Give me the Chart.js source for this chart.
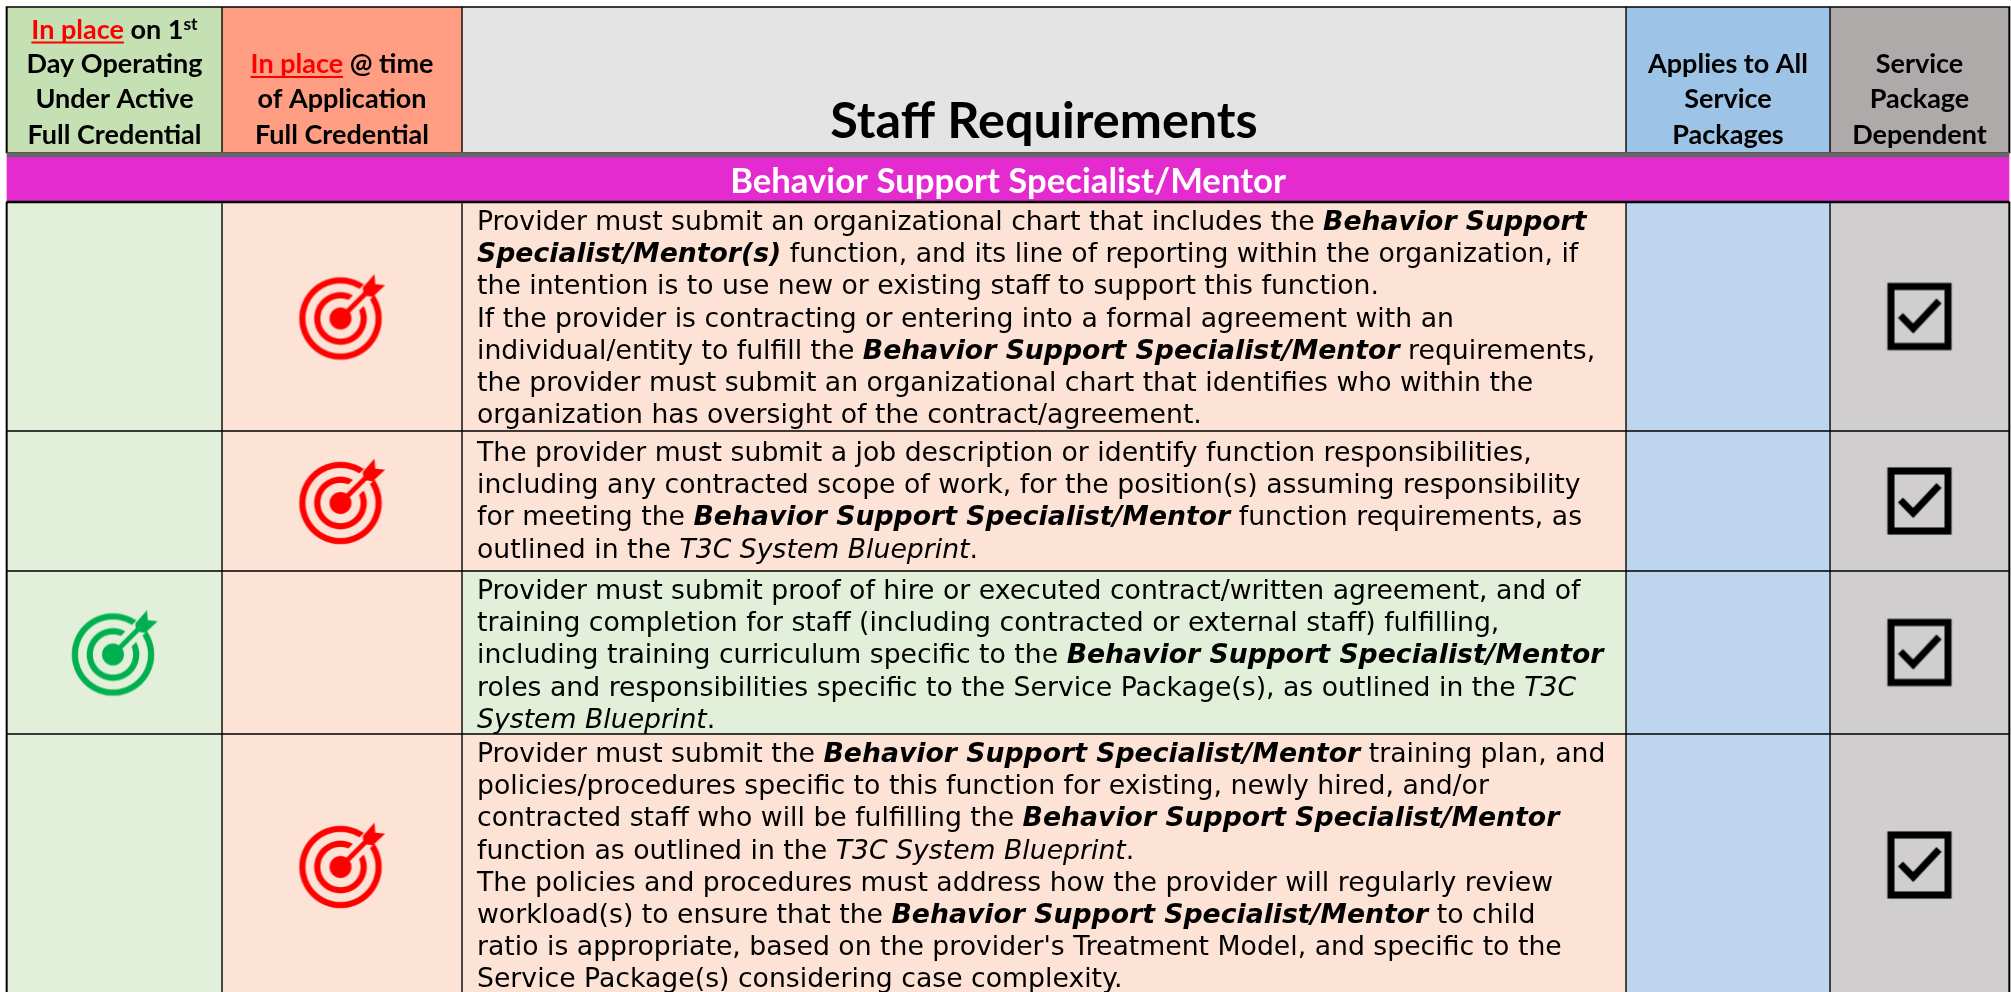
<!DOCTYPE html>
<html><head><meta charset="utf-8">
<style>html,body{margin:0;padding:0;background:#fff;overflow:hidden}canvas{display:block}</style>
<script src="https://cdn.jsdelivr.net/npm/chart.js@4"></script>
</head><body><canvas id="c" width="2011" height="992"></canvas>
<script>
// ---- content ----
const columnHeaders = [
  ["[In place] on 1^st", "Day Operating", "Under Active", "Full Credential"],
  ["[In place] @ time", "of Application", "Full Credential"],
  ["Staff Requirements"],
  ["Applies to All", "Service", "Packages"],
  ["Service", "Package", "Dependent"]
];
const sectionTitle = "Behavior Support Specialist/Mentor";
const rowTexts = [
  ["Provider must submit an organizational chart that includes the **Behavior Support**",
   "**Specialist/Mentor(s)** function, and its line of reporting within the organization, if",
   "the intention is to use new or existing staff to support this function.",
   "If the provider is contracting or entering into a formal agreement with an",
   "individual/entity to fulfill the **Behavior Support Specialist/Mentor** requirements,",
   "the provider must submit an organizational chart that identifies who within the",
   "organization has oversight of the contract/agreement."],
  ["The provider must submit a job description or identify function responsibilities,",
   "including any contracted scope of work, for the position(s) assuming responsibility",
   "for meeting the **Behavior Support Specialist/Mentor** function requirements, as",
   "outlined in the *T3C System Blueprint*."],
  ["Provider must submit proof of hire or executed contract/written agreement, and of",
   "training completion for staff (including contracted or external staff) fulfilling,",
   "including training curriculum specific to the **Behavior Support Specialist/Mentor**",
   "roles and responsibilities specific to the Service Package(s), as outlined in the *T3C*",
   "*System Blueprint*."],
  ["Provider must submit the **Behavior Support Specialist/Mentor** training plan, and",
   "policies/procedures specific to this function for existing, newly hired, and/or",
   "contracted staff who will be fulfilling the **Behavior Support Specialist/Mentor**",
   "function as outlined in the *T3C System Blueprint*.",
   "The policies and procedures must address how the provider will regularly review",
   "workload(s) to ensure that the **Behavior Support Specialist/Mentor** to child",
   "ratio is appropriate, based on the provider's Treatment Model, and specific to the",
   "Service Package(s) considering case complexity."]
];
// which column each row's target icon sits in (0 = first day, 1 = at application)
const targetColumnByRow = [1, 1, 0, 1];
// every row is ticked in "Service Package Dependent"
const checkColumnByRow = [4, 4, 4, 4];

// ---- layout & style (kept apart from the content) ----
const colEdges = [7, 222, 462, 1626, 1830, 2009];
const rowEdges = [7, 153, 157, 202, 431, 571, 734, 996];
const headerFill = ["#C5E0B3", "#FF9E83", "#E4E4E4", "#9DC3E6", "#AEAAAA"];
const bodyGreen = "#E2EFD9", bodySalmon = "#FDE3D6", bodyBlue = "#BDD6EE", bodyGrey = "#D0CECE";
const BODY_FONT = '"DejaVu Sans"', HEAD_FONT = 'Lato';
const bodySize = 26.7, bodyLine = 32.2, bodyX = 477;
const rowFirstBaseline = [230, 461, 599, 762];
const headBaselines = [38.5, 73, 108, 144];
const headSize = 27;

const colCenter = i => (colEdges[i] + colEdges[i + 1]) / 2;
const rowCenter = i => (rowEdges[i + 3] + rowEdges[i + 4]) / 2;

function cell(col, rowEdgeIdx) {
  return { x: colCenter(col), y: [rowEdges[rowEdgeIdx], rowEdges[rowEdgeIdx + 1]] };
}
const datasets = [];
const fullCenter = (colEdges[0] + colEdges[5]) / 2, fullWidth = colEdges[5] - colEdges[0];
// black backing that thickens the table's outer frame
datasets.push({ type: 'bar', data: [{ x: fullCenter, y: [6.5, rowEdges[1]] }, { x: fullCenter, y: [rowEdges[3], 996] }],
  backgroundColor: '#000', grouped: false, barThickness: fullWidth + 2, order: 9 });
// five table columns, each a floating-bar dataset
for (let c = 0; c < 5; c++) {
  const pts = [cell(c, 0)], fills = [headerFill[c]];
  rowTexts.forEach((_, r) => {
    pts.push(cell(c, r + 3));
    let f = c === 0 ? bodyGreen : c === 1 ? bodySalmon : c === 3 ? bodyBlue : c === 4 ? bodyGrey
          : (targetColumnByRow[r] === 0 ? bodyGreen : bodySalmon);
    fills.push(f);
  });
  datasets.push({
    type: 'bar', data: pts, backgroundColor: fills, borderColor: '#000', borderWidth: 1,
    borderSkipped: false, grouped: false, barThickness: colEdges[c + 1] - colEdges[c], order: 5
  });
}
// grey rule and magenta section band
datasets.push({ type: 'bar', data: [{ x: fullCenter, y: [rowEdges[1] - 0.5, rowEdges[2]] }], backgroundColor: '#666666',
  grouped: false, barThickness: fullWidth, order: 4 });
datasets.push({ type: 'bar', data: [{ x: fullCenter, y: [rowEdges[2], rowEdges[3]] }], backgroundColor: '#E42BD0',
  grouped: false, barThickness: fullWidth, order: 4 });
datasets.push({ type: 'bar', data: [{ x: fullCenter, y: [rowEdges[3] - 1, rowEdges[3] + 1] }], backgroundColor: '#000',
  grouped: false, barThickness: fullWidth, order: 3 });

// icon sprites
function targetIcon(color) {
  const s = 3, w = 100, cv = document.createElement('canvas');
  cv.width = cv.height = w * s;
  cv.style.width = cv.style.height = w + 'px';
  const g = cv.getContext('2d'); g.scale(s, s);
  const cx = 44, cy = 56;
  g.strokeStyle = g.fillStyle = color;
  g.lineWidth = 6.2; g.beginPath(); g.arc(cx, cy, 38.1, 0, 7); g.stroke();
  g.beginPath(); g.arc(cx, cy, 23.2, 0, 7); g.stroke();
  // clear a channel around the arrow
  g.globalCompositeOperation = 'destination-out';
  g.lineWidth = 15; g.beginPath(); g.moveTo(cx + 2, cy - 2); g.lineTo(cx + 42, cy - 42); g.stroke();
  g.globalCompositeOperation = 'source-over';
  g.beginPath(); g.arc(cx, cy, 11, 0, 7); g.fill();
  g.lineWidth = 5; g.beginPath(); g.moveTo(cx, cy); g.lineTo(cx + 27, cy - 27); g.stroke();
  // fletching
  g.beginPath();
  g.moveTo(cx + 22.3, cy - 31); g.lineTo(cx + 34, cy - 44.3); g.lineTo(cx + 34.7, cy - 34.3);
  g.lineTo(cx + 44.7, cy - 33.3); g.lineTo(cx + 32.3, cy - 21.7); g.lineTo(cx + 23, cy - 23); g.closePath(); g.fill();
  return cv;
}
function checkIcon() {
  const s = 3, w = 70, cv = document.createElement('canvas');
  cv.width = cv.height = w * s;
  cv.style.width = cv.style.height = w + 'px';
  const g = cv.getContext('2d'); g.scale(s, s);
  g.strokeStyle = '#000'; g.lineWidth = 7;
  g.strokeRect(6.5, 5, 57, 60);
  g.lineWidth = 7; g.beginPath(); g.moveTo(16, 34); g.lineTo(28.7, 47); g.lineTo(54.5, 19.5); g.stroke();
  return cv;
}
function sized(cv) { // chart.js draws image point styles at their .width/.height
  const o = document.createElement('canvas');
  const w = parseInt(cv.style.width); o.width = o.height = w;
  const g = o.getContext('2d'); g.imageSmoothingQuality = 'high'; g.drawImage(cv, 0, 0, w, w);
  return o;
}
const redTarget = sized(targetIcon('#FF0000')), greenTarget = sized(targetIcon('#00B050')), tick = sized(checkIcon());

datasets.push({
  type: 'scatter', order: 1,
  data: targetColumnByRow.map((c, r) => ({ x: colCenter(c) + 4.5, y: rowCenter(r) - 4 })),
  pointStyle: targetColumnByRow.map(c => c === 0 ? greenTarget : redTarget), pointRadius: 1
});
datasets.push({
  type: 'scatter', order: 1,
  data: checkColumnByRow.map((c, r) => ({ x: colCenter(c), y: rowCenter(r) })),
  pointStyle: tick, pointRadius: 1
});

// text painter
function parseRuns(line) {
  const runs = []; let mode = '', buf = '';
  for (let i = 0; i < line.length;) {
    if (line.startsWith('**', i)) { if (buf) runs.push([buf, mode]); buf = ''; mode = mode === 'bi' ? '' : 'bi'; i += 2; }
    else if (line[i] === '*') { if (buf) runs.push([buf, mode]); buf = ''; mode = mode === 'i' ? '' : 'i'; i++; }
    else buf += line[i++];
  }
  if (buf) runs.push([buf, mode]);
  return runs;
}
function drawBody(ctx) {
  ctx.textAlign = 'left'; ctx.textBaseline = 'alphabetic'; ctx.fillStyle = '#000';
  const fonts = { '': '', i: 'italic ', bi: 'italic bold ' };
  rowTexts.forEach((lines, r) => {
    lines.forEach((ln, k) => {
      let x = bodyX; const y = rowFirstBaseline[r] + k * bodyLine;
      parseRuns(ln).forEach(([t, m]) => {
        ctx.font = fonts[m] + bodySize + 'px ' + BODY_FONT;
        ctx.fillText(t, x, y); x += ctx.measureText(t).width;
      });
    });
  });
}
function drawHeader(ctx) {
  ctx.textBaseline = 'alphabetic'; ctx.textAlign = 'left';
  columnHeaders.forEach((lines, c) => {
    if (c === 2) return;
    const start = 4 - lines.length;
    lines.forEach((ln, k) => {
      const y = headBaselines[start + k];
      const m = ln.match(/^\[(.*?)\](.*?)(\^(.*))?$/);
      const red = m ? m[1] : '', rest = m ? m[2] : ln, sup = m && m[4] ? m[4] : '';
      ctx.font = 'bold ' + headSize + 'px ' + HEAD_FONT;
      const wRed = ctx.measureText(red).width, wRest = ctx.measureText(rest).width;
      ctx.font = 'bold ' + headSize * 0.65 + 'px ' + HEAD_FONT;
      const wSup = ctx.measureText(sup).width;
      let x = colCenter(c) - (wRed + wRest + wSup) / 2;
      ctx.font = 'bold ' + headSize + 'px ' + HEAD_FONT;
      if (red) {
        ctx.fillStyle = '#FF0000'; ctx.fillText(red, x, y);
        ctx.fillRect(x, y + 3, wRed, 2); x += wRed;
      }
      ctx.fillStyle = '#000'; ctx.fillText(rest, x, y); x += wRest;
      if (sup) { ctx.font = 'bold ' + headSize * 0.65 + 'px ' + HEAD_FONT; ctx.fillText(sup, x, y - 9); }
    });
  });
  ctx.textAlign = 'center'; ctx.fillStyle = '#000';
  ctx.font = 'bold 50.4px ' + HEAD_FONT;
  ctx.fillText(columnHeaders[2][0], colCenter(2), 138);
  ctx.fillStyle = '#fff'; ctx.font = 'bold 34.7px ' + HEAD_FONT;
  ctx.fillText(sectionTitle, 1008, 193);
}
const textPlugin = { id: 'tableText', afterDatasetsDraw(chart) {
  const ctx = chart.ctx; ctx.save(); drawHeader(ctx); drawBody(ctx); ctx.restore();
} };

new Chart(document.getElementById('c'), {
  data: { datasets },
  plugins: [textPlugin],
  options: {
    responsive: false, animation: false, devicePixelRatio: 1,
    layout: { padding: 0, autoPadding: false },
    plugins: { legend: { display: false }, tooltip: { enabled: false } },
    scales: {
      x: { type: 'linear', min: 0, max: 2011, display: false, offset: false, grid: { offset: false } },
      y: { type: 'linear', min: 0, max: 992, reverse: true, display: false }
    }
  }
});
</script></body></html>
